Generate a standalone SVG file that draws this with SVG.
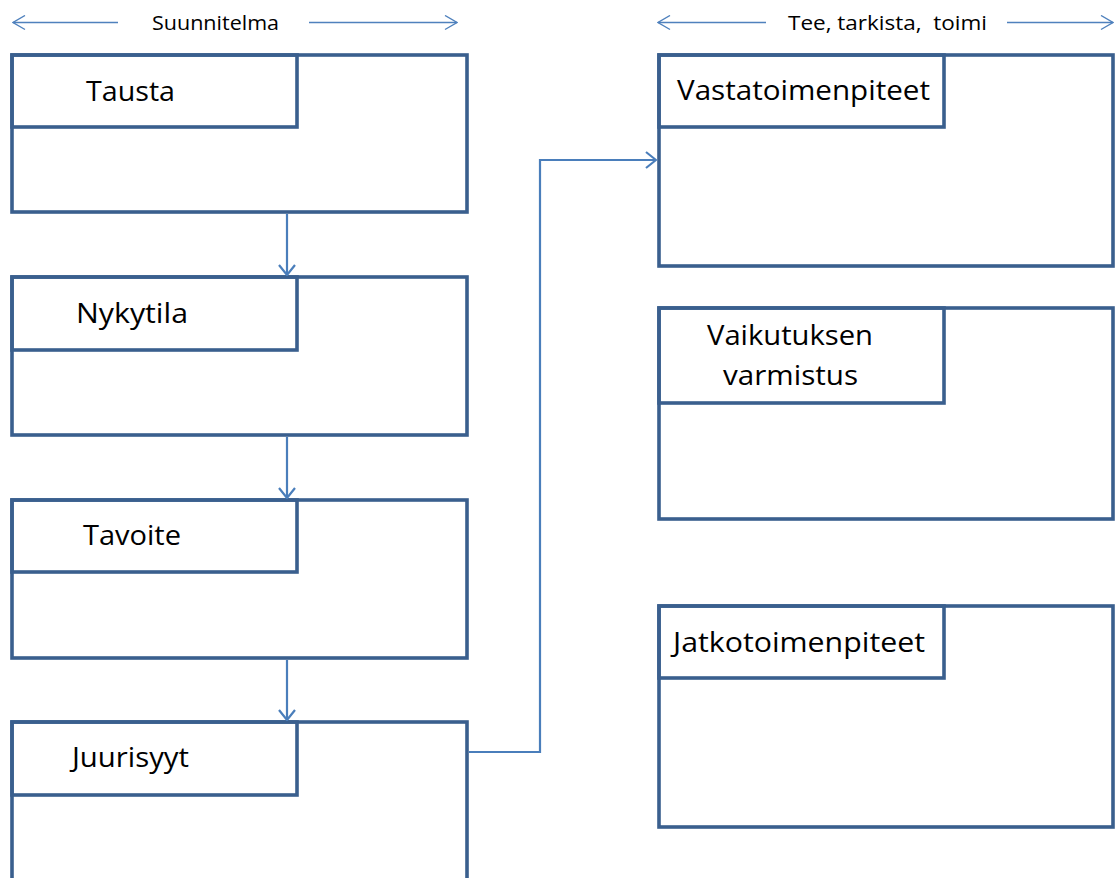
<svg xmlns="http://www.w3.org/2000/svg" width="1118" height="878" viewBox="0 0 1118 878">
  <defs>
    <style>
      .box { fill: #ffffff; stroke: #3A5F8E; stroke-width: 3.6; stroke-linejoin: miter; }
      .head { fill: none; stroke: #3A5F8E; stroke-width: 3.6; }
      .title { font-family: "Open Sans", "Liberation Sans", sans-serif; font-size: 28px; fill: #000000; }
      .phase { font-family: "Open Sans", "Liberation Sans", sans-serif; font-size: 20px; fill: #000000; white-space: pre; }
      .link { fill: none; stroke: #4A7EBB; stroke-width: 2.2; }
      .span { fill: none; stroke: #4F81BD; stroke-width: 1.4; }
    </style>
    <marker id="chev" markerUnits="userSpaceOnUse" viewBox="0 0 12 18" refX="11" refY="9" markerWidth="12" markerHeight="18" orient="auto">
      <path d="M1,1 L11,9 L1,17" fill="none" stroke="#4A7EBB" stroke-width="2.2"/>
    </marker>
    <marker id="chevThin" markerUnits="userSpaceOnUse" viewBox="0 0 14 16" refX="13" refY="8" markerWidth="14" markerHeight="16" orient="auto-start-reverse">
      <path d="M1,1 L13,8 L1,15" fill="none" stroke="#4F81BD" stroke-width="1.4"/>
    </marker>
  </defs>

  <!-- phase labels with span arrows -->
  <g id="phase-plan">
    <line class="span" x1="118" y1="22.5" x2="13" y2="22.5" marker-end="url(#chevThin)"/>
    <text class="phase" x="152" y="30" textLength="127" lengthAdjust="spacingAndGlyphs">Suunnitelma</text>
    <line class="span" x1="309" y1="22.5" x2="457" y2="22.5" marker-end="url(#chevThin)"/>
  </g>
  <g id="phase-do">
    <line class="span" x1="766" y1="22.5" x2="658" y2="22.5" marker-end="url(#chevThin)"/>
    <text class="phase" x="788" y="30" textLength="199" lengthAdjust="spacingAndGlyphs">Tee, tarkista,  toimi</text>
    <line class="span" x1="1007" y1="22.5" x2="1113" y2="22.5" marker-end="url(#chevThin)"/>
  </g>

  <!-- left column -->
  <g id="tausta">
    <rect class="box" x="12" y="55" width="455" height="157"/>
    <rect class="head" x="12" y="55" width="285" height="72"/>
    <text class="title" x="86" y="101" textLength="89" lengthAdjust="spacingAndGlyphs">Tausta</text>
  </g>
  <g id="nykytila">
    <rect class="box" x="12" y="277" width="455" height="158"/>
    <rect class="head" x="12" y="277" width="285" height="73"/>
    <text class="title" x="76" y="323" textLength="112" lengthAdjust="spacingAndGlyphs">Nykytila</text>
  </g>
  <g id="tavoite">
    <rect class="box" x="12" y="500" width="455" height="158"/>
    <rect class="head" x="12" y="500" width="285" height="72"/>
    <text class="title" x="83" y="545" textLength="98" lengthAdjust="spacingAndGlyphs">Tavoite</text>
  </g>
  <g id="juurisyyt">
    <rect class="box" x="12" y="722" width="455" height="180"/>
    <rect class="head" x="12" y="722" width="285" height="73"/>
    <text class="title" x="72" y="767" textLength="117" lengthAdjust="spacingAndGlyphs">Juurisyyt</text>
  </g>

  <!-- right column -->
  <g id="vastatoimenpiteet">
    <rect class="box" x="659" y="55" width="454" height="211"/>
    <rect class="head" x="659" y="55" width="285" height="72"/>
    <text class="title" x="677" y="100" textLength="253" lengthAdjust="spacingAndGlyphs">Vastatoimenpiteet</text>
  </g>
  <g id="vaikutuksen-varmistus">
    <rect class="box" x="659" y="308" width="454" height="211"/>
    <rect class="head" x="659" y="308" width="285" height="95"/>
    <text class="title" x="707" y="345" textLength="166" lengthAdjust="spacingAndGlyphs">Vaikutuksen</text>
    <text class="title" x="723" y="385" textLength="135" lengthAdjust="spacingAndGlyphs">varmistus</text>
  </g>
  <g id="jatkotoimenpiteet">
    <rect class="box" x="659" y="606" width="454" height="221"/>
    <rect class="head" x="659" y="606" width="285" height="72"/>
    <text class="title" x="673" y="652" textLength="252" lengthAdjust="spacingAndGlyphs">Jatkotoimenpiteet</text>
  </g>

  <!-- connectors -->
  <g id="connectors">
    <line class="link" x1="287" y1="214" x2="287" y2="275" marker-end="url(#chev)"/>
    <line class="link" x1="287" y1="437" x2="287" y2="498" marker-end="url(#chev)"/>
    <line class="link" x1="287" y1="660" x2="287" y2="720" marker-end="url(#chev)"/>
    <polyline class="link" points="469,752 540,752 540,160 656,160" marker-end="url(#chev)"/>
  </g>
</svg>
